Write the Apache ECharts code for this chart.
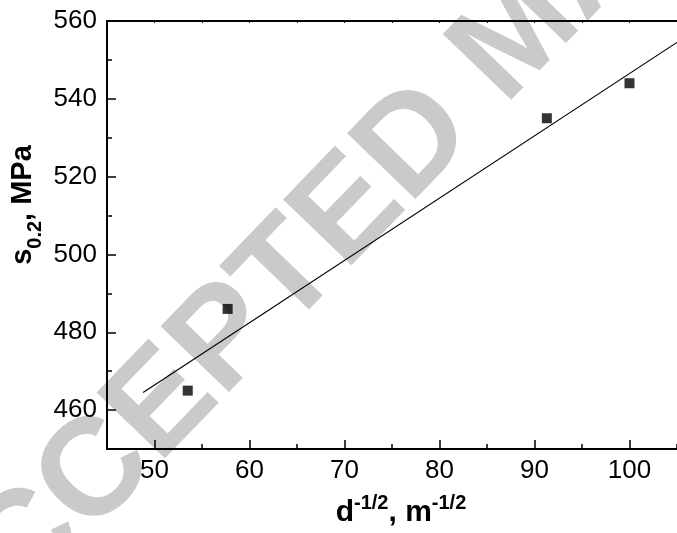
<!DOCTYPE html>
<html><head><meta charset="utf-8">
<script src="https://cdn.jsdelivr.net/npm/echarts@6/dist/echarts.min.js"></script>
<style>html,body{margin:0;padding:0;background:#fff}#c{width:677px;height:533px}</style>
</head><body><div id="c"></div>
<script>
// ---- data ----
const xValues = [53.5, 57.7, 91.3, 100.0];
const yValues = [465, 486, 535, 544];
const fitX = [48.8, 105];
const fitY = [464.5, 554.5];
const xMajorTicks = [50, 60, 70, 80, 90, 100];
const xMinorTicks = [55, 65, 75, 85, 95, 105];
const xTopTicks = [50, 55, 60, 65, 70, 75, 80, 85, 90, 95, 100, 105];
const yMajorTicks = [460, 480, 500, 520, 540, 560];
const yMinorTicks = [470, 490, 510, 530, 550];
const xRange = [45, 105];
const yRange = [450, 560];
const watermark = 'ACCEPTED MANUSCRIPT';

const FONT = "'Liberation Sans', Arial, Helvetica, sans-serif";
const points = xValues.map((x, i) => [x, yValues[i]]);
const fitLine = fitX.map((x, i) => [x, fitY[i]]);

const chart = echarts.init(document.getElementById('c'), null, {renderer: 'canvas'});
const baseX = {type: 'value', min: xRange[0], max: xRange[1], splitLine: {show: false}};
const baseY = {type: 'value', min: yRange[0], max: yRange[1], splitLine: {show: false}};
const lineStyle = {color: '#000', width: 2};

chart.setOption({
  animation: false,
  backgroundColor: '#fff',
  grid: {left: 107, top: 21, right: -5, bottom: 84, containLabel: false},
  xAxis: [
    Object.assign({}, baseX, {
      position: 'bottom',
      axisLine: {show: true, onZero: false, lineStyle: lineStyle},
      axisTick: {show: true, inside: true, length: 9, customValues: xMajorTicks, lineStyle: {color: '#000', width: 1.5}},
      axisLabel: {show: true, customValues: xMajorTicks, margin: 9, color: '#000', fontSize: 26, fontFamily: FONT}
    }),
    Object.assign({}, baseX, {
      position: 'bottom',
      axisLine: {show: false, onZero: false},
      axisTick: {show: true, inside: true, length: 5, customValues: xMinorTicks, lineStyle: {color: '#000', width: 1.5}},
      axisLabel: {show: false}
    }),
    Object.assign({}, baseX, {
      position: 'top',
      axisLine: {show: true, onZero: false, lineStyle: lineStyle},
      axisTick: {show: true, inside: true, length: 2, customValues: xTopTicks, lineStyle: {color: '#000', width: 1}},
      axisLabel: {show: false}
    })
  ],
  yAxis: [
    Object.assign({}, baseY, {
      position: 'left',
      axisLine: {show: true, onZero: false, lineStyle: lineStyle},
      axisTick: {show: true, inside: true, length: 9, customValues: yMajorTicks, lineStyle: {color: '#000', width: 1.5}},
      axisLabel: {show: true, customValues: yMajorTicks, margin: 10, color: '#000', fontSize: 26, fontFamily: FONT}
    }),
    Object.assign({}, baseY, {
      position: 'left',
      axisLine: {show: false, onZero: false},
      axisTick: {show: true, inside: true, length: 5, customValues: yMinorTicks, lineStyle: {color: '#000', width: 1.5}},
      axisLabel: {show: false}
    })
  ],
  graphic: [
    {
      type: 'text', z: -10, silent: true,
      x: 520, y: 36, rotation: 46 * Math.PI / 180,
      style: {
        text: watermark, fill: '#cacaca',
        font: 'bold 138px ' + FONT,
        textAlign: 'center', textVerticalAlign: 'middle', align: 'center', verticalAlign: 'middle'
      }
    },
    {
      type: 'text', silent: true, x: 401, y: 513,
      style: {
        text: '{m|d}{sup|-1/2}{m|, m}{sup|-1/2}',
        textAlign: 'center', textVerticalAlign: 'middle', align: 'center', verticalAlign: 'middle',
        rich: {
          m: {fontSize: 30, fontWeight: 'bold', fontFamily: FONT, lineHeight: 40, fill: '#000', color: '#000'},
          sup: {fontSize: 20, fontWeight: 'bold', fontFamily: FONT, lineHeight: 20, verticalAlign: 'top', fill: '#000', color: '#000'}
        }
      }
    },
    {
      type: 'text', silent: true, x: 23, y: 205, rotation: Math.PI / 2,
      style: {
        text: '{m|s}{sub|0.2}{m|, MPa}',
        textAlign: 'center', textVerticalAlign: 'middle', align: 'center', verticalAlign: 'middle',
        rich: {
          m: {fontSize: 29, fontWeight: 'bold', fontFamily: FONT, lineHeight: 44, fill: '#000', color: '#000'},
          sub: {fontSize: 20, fontWeight: 'bold', fontFamily: FONT, lineHeight: 20, verticalAlign: 'bottom', fill: '#000', color: '#000'}
        }
      }
    }
  ],
  series: [
    {
      type: 'line', xAxisIndex: 0, yAxisIndex: 0, data: fitLine,
      showSymbol: false, symbol: 'none', clip: false,
      lineStyle: {color: '#000', width: 1.2}, z: 3
    },
    {
      type: 'scatter', xAxisIndex: 0, yAxisIndex: 0, data: points,
      symbol: 'rect', symbolSize: 10, itemStyle: {color: '#000'}, z: 4
    }
  ]
});
</script></body></html>
